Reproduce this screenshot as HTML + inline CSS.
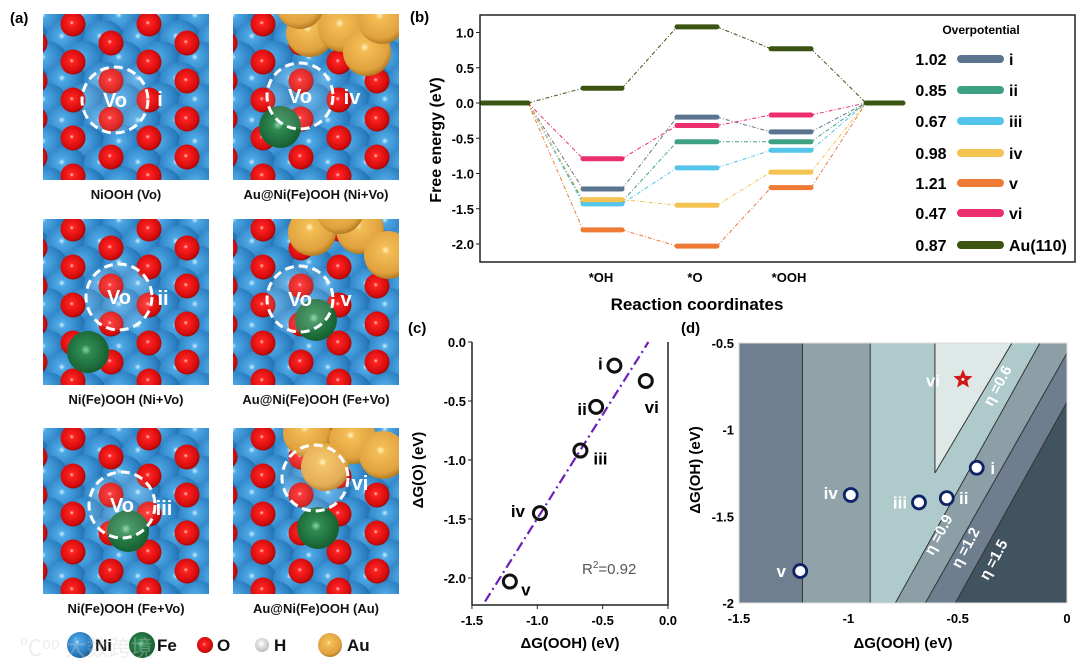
<!DOCTYPE html>
<html><head><meta charset="utf-8">
<style>
html,body{margin:0;padding:0;background:#fff;}
svg{display:block;font-family:"Liberation Sans",Arial,sans-serif;}
</style></head>
<body>
<svg id="fig" width="1080" height="668" viewBox="0 0 1080 668" xmlns="http://www.w3.org/2000/svg">
<defs>
<radialGradient id="gBlue" cx="0.4" cy="0.38" r="0.65"><stop offset="0" stop-color="#cfefff"/><stop offset="0.12" stop-color="#4fa9e6"/><stop offset="0.7" stop-color="#2a7dc0"/><stop offset="1" stop-color="#1d5f97"/></radialGradient>
<radialGradient id="gRed" cx="0.45" cy="0.45" r="0.6"><stop offset="0" stop-color="#ffd0d0"/><stop offset="0.15" stop-color="#f22"/><stop offset="0.75" stop-color="#d40c0c"/><stop offset="1" stop-color="#8e0505"/></radialGradient>
<radialGradient id="gGreen" cx="0.45" cy="0.45" r="0.6"><stop offset="0" stop-color="#8fd3a8"/><stop offset="0.2" stop-color="#2f8c52"/><stop offset="1" stop-color="#135a2c"/></radialGradient>
<radialGradient id="gGold" cx="0.45" cy="0.4" r="0.6"><stop offset="0" stop-color="#fff4c0"/><stop offset="0.15" stop-color="#f3bd55"/><stop offset="0.8" stop-color="#e0a23e"/><stop offset="1" stop-color="#b47c22"/></radialGradient>
<radialGradient id="gWhite" cx="0.45" cy="0.4" r="0.6"><stop offset="0" stop-color="#fff"/><stop offset="1" stop-color="#bbb"/></radialGradient>
</defs>
<g id="panelA"></g>
<text x="10" y="23" font-size="15" font-weight="bold">(a)</text>
<g id="panelB"></g>
<g id="panelC"></g>
<g id="panelD"></g>
</svg>
<script>
const NS='http://www.w3.org/2000/svg';
function mk(tag,attrs,parent,text){const e=document.createElementNS(NS,tag);for(const k in attrs)e.setAttribute(k,attrs[k]);if(text!==undefined)e.textContent=text;parent.appendChild(e);return e;}

// ---------- Panel B data ----------
const bSteps=['*OH','*O','*OOH'];
const bNames=['i','ii','iii','iv','v','vi','Au(110)'];
const bOverpot=['1.02','0.85','0.67','0.98','1.21','0.47','0.87'];
const bColors=['#5a7590','#3fa183','#55c4ea','#f5c352','#ee7a36','#ea2f6c','#3b5412'];
const bOH=[-1.22,-1.40,-1.43,-1.37,-1.80,-0.79,0.21];
const bO=[-0.20,-0.55,-0.92,-1.45,-2.03,-0.32,1.08];
const bOOH=[-0.41,-0.55,-0.67,-0.98,-1.20,-0.17,0.77];
const bTicks=[1.0,0.5,0.0,-0.5,-1.0,-1.5,-2.0];

// ---------- Panel C data ----------
const cNames=['i','ii','iii','iv','v','vi'];
const cOOH=[-0.41,-0.55,-0.67,-0.98,-1.21,-0.17];
const cO=[-0.20,-0.55,-0.92,-1.45,-2.03,-0.33];
const cFitX=[-1.40,-0.15];
const cFitY=[-2.20,0.00];
const cXTicks=[-1.5,-1.0,-0.5,0.0];
const cYTicks=[0.0,-0.5,-1.0,-1.5,-2.0];

// ---------- Panel D data ----------
const dNames=['i','ii','iii','iv','v'];
const dOOH=[-0.413,-0.55,-0.677,-0.989,-1.22];
const dOH=[-1.22,-1.395,-1.42,-1.377,-1.816];
const dStar=[-0.476,-0.71];
const dVLines=[-1.21,-0.90];
const dApex=[-0.604,-1.25];
const dEta06Top=[-0.252,-0.5];
const dEta09=[[-0.785,-2],[-0.124,-0.5]];
const dEta12=[[-0.648,-2],[0,-0.558]];
const dEta15=[[-0.511,-2],[0,-0.84]];
const dXTicks=[-1.5,-1,-0.5,0];
const dYTicks=[-0.5,-1,-1.5,-2];

// ================= Panel A =================
(function(){
  const g=document.getElementById('panelA');
  const tiles=[
    {x:43,y:14,label:'NiOOH (Vo)',circ:[115,100],vo:true,id:'i',idp:[160,106],green:null,gold:[]},
    {x:233,y:14,label:'Au@Ni(Fe)OOH (Ni+Vo)',circ:[300,96],vo:true,id:'iv',idp:[352,104],green:[280,127],gold:[[310,33],[342,28],[367,52],[382,20],[300,5]]},
    {x:43,y:219,label:'Ni(Fe)OOH (Ni+Vo)',circ:[119,297],vo:true,id:'ii',idp:[163,305],green:[88,352],gold:[]},
    {x:233,y:219,label:'Au@Ni(Fe)OOH (Fe+Vo)',circ:[300,299],vo:true,id:'v',idp:[346,306],green:[316,320],gold:[[312,232],[360,230],[388,255],[340,210]]},
    {x:43,y:428,label:'Ni(Fe)OOH (Fe+Vo)',circ:[122,505],vo:true,id:'iii',idp:[164,515],green:[128,531],gold:[]},
    {x:233,y:428,label:'Au@Ni(Fe)OOH (Au)',circ:[315,478],vo:false,id:'vi',idp:[360,490],green:[318,528],gold:[[307,433],[353,440],[383,455],[325,467]]}
  ];
  tiles.forEach((t,ti)=>{
    const tg=mk('g',{},g);
    
    
    const cp=mk('clipPath',{id:'clip'+ti},tg);
    mk('rect',{x:t.x,y:t.y,width:166,height:166},cp);
    const inner=mk('g',{'clip-path':'url(#clip'+ti+')'},tg);
    mk('rect',{x:t.x,y:t.y,width:166,height:166,fill:'#2a78b8'},inner);
    for(let j=-1;j<9;j++){for(let i=-1;i<6;i++){
      const cx=t.x+i*38+(j%2?19:0)+4, cy=t.y+j*21+6;
      mk('circle',{cx:cx,cy:cy,r:21,fill:'url(#gBlue)'},inner);
    }}
    for(let j=0;j<10;j++){for(let i=-1;i<4;i++){
      const cx=t.x+i*76+(j%2?38:0)+30, cy=t.y+j*19+10;
      mk('circle',{cx:cx,cy:cy,r:12.5,fill:'url(#gRed)'},inner);
    }}
    if(t.green) mk('circle',{cx:t.green[0],cy:t.green[1],r:21,fill:'url(#gGreen)'},inner);
    t.gold.forEach(p=>mk('circle',{cx:p[0],cy:p[1],r:24,fill:'url(#gGold)'},inner));
    const dc=mk('circle',{cx:t.circ[0],cy:t.circ[1],r:33,fill:'rgba(255,255,255,0.12)',stroke:'#fff','stroke-width':3,'stroke-dasharray':'9 5'},inner);
    
    
    if(t.vo){const v=mk('text',{x:t.circ[0],y:t.circ[1]+7,'text-anchor':'middle','font-size':20,'font-weight':'bold',fill:'#fff'},inner,'Vo');
      }
    const idt=mk('text',{x:t.idp[0],y:t.idp[1],'text-anchor':'middle','font-size':20,'font-weight':'bold',fill:'#fff'},inner,t.id);
    
    
    const lb=mk('text',{x:t.x+83,y:t.y+185,'text-anchor':'middle','font-size':13,'font-weight':'bold',fill:'#111'},g,t.label);
    
    
  });
  const leg=mk('g',{},g);
  
  
  const items=[['Ni','gBlue',80,13,95],['Fe','gGreen',142,13,157],['O','gRed',205,8,217],['H','gWhite',262,7,274],['Au','gGold',330,12,347]];
  items.forEach(it=>{
    mk('circle',{cx:it[2],cy:645,r:it[3],fill:'url(#'+it[1]+')'},leg);
    const t=mk('text',{x:it[4],y:651,'font-size':17,'font-weight':'bold',fill:'#111'},leg,it[0]);
    
    
  });
  mk('text',{x:20,y:656,'font-size':22,fill:'#ccc',opacity:0.35,'font-family':'"Noto Sans CJK SC",sans-serif'},g,'℃⁰⁰ 大数跨境');
})();

// ================= Panel B =================
(function(){
  const g=document.getElementById('panelB');
  const L=480,R=1075,T=15,B=262;
  const y=v=>103-v*70.5;
  mk('text',{x:410,y:22,'font-size':15,'font-weight':'bold'},g,'(b)');
  const lvx=[[482,528],[583,622],[677,717],[771,811],[866,903]];
  bNames.forEach((n,k)=>{
    const vals=[0,bOH[k],bO[k],bOOH[k],0];
    for(let s=0;s<4;s++){
      const ln=mk('line',{x1:lvx[s][1],y1:y(vals[s]),x2:lvx[s+1][0],y2:y(vals[s+1]),stroke:bColors[k],'stroke-width':1,'stroke-dasharray':'4 2 1 2'},g);
      
      
    }
  });
  bNames.forEach((n,k)=>{
    const vals=[bOH[k],bO[k],bOOH[k]];
    for(let s=0;s<3;s++){
      const r=mk('line',{x1:lvx[s+1][0],y1:y(vals[s]),x2:lvx[s+1][1],y2:y(vals[s]),stroke:bColors[k],'stroke-width':5,'stroke-linecap':'round'},g);
      
      
    }
  });
  [0,4].forEach(s=>{const r=mk('line',{x1:lvx[s][0],y1:y(0),x2:lvx[s][1],y2:y(0),stroke:bColors[6],'stroke-width':5,'stroke-linecap':'round'},g);
    });
  const fr=mk('rect',{x:L,y:T,width:R-L,height:B-T,fill:'none',stroke:'#222','stroke-width':1.5},g);
  
  bTicks.forEach(v=>{
    mk('line',{x1:L-4,y1:y(v),x2:L,y2:y(v),stroke:'#222'},g);
    const t=mk('text',{x:L-6,y:y(v)+5,'text-anchor':'end','font-size':13,'font-weight':'bold'},g,v.toFixed(1));
    
  });
  const cx=[601,695,789];
  bSteps.forEach((s,i)=>{const t=mk('text',{x:cx[i],y:282,'text-anchor':'middle','font-size':13,'font-weight':'bold'},g,s);
    });
  const xt=mk('text',{x:697,y:310,'text-anchor':'middle','font-size':17,'font-weight':'bold'},g,'Reaction coordinates');
  
  const yt=mk('text',{x:0,y:0,transform:'translate(441,140) rotate(-90)','text-anchor':'middle','font-size':16,'font-weight':'bold'},g,'Free energy (eV)');
  
  mk('text',{x:981,y:34,'text-anchor':'middle','font-size':12,'font-weight':'bold'},g,'Overpotential');
  const ry=[59,90,121,153,183,213,245];
  bNames.forEach((n,k)=>{
    const lg=mk('g',{},g);
    
    
    mk('text',{x:931,y:ry[k]+6,'text-anchor':'middle','font-size':16,'font-weight':'bold'},lg,bOverpot[k]);
    mk('line',{x1:961,y1:ry[k],x2:1000,y2:ry[k],stroke:bColors[k],'stroke-width':8,'stroke-linecap':'round'},lg);
    mk('text',{x:1009,y:ry[k]+6,'font-size':16,'font-weight':'bold'},lg,n);
  });
})();

// ================= Panel C =================
(function(){
  const g=document.getElementById('panelC');
  const L=472,R=668,T=342,B=605;
  const x=v=>R+v*130.7, y=v=>T-v*118;
  mk('text',{x:408,y:333,'font-size':15,'font-weight':'bold'},g,'(c)');
  const fit=mk('line',{x1:x(cFitX[0]),y1:y(cFitY[0]),x2:x(cFitX[1]),y2:y(cFitY[1]),stroke:'#6a1fb8','stroke-width':2.2,'stroke-dasharray':'10 4 2 4'},g);
  
  const lblOff=[[-14,-2],[-14,2],[20,8],[-22,-2],[16,8],[6,26]];
  cNames.forEach((n,k)=>{
    const c=mk('circle',{cx:x(cOOH[k]),cy:y(cO[k]),r:6.5,fill:'none',stroke:'#111','stroke-width':3},g);
    
    const t=mk('text',{x:x(cOOH[k])+lblOff[k][0],y:y(cO[k])+lblOff[k][1]+6,'text-anchor':'middle','font-size':17,'font-weight':'bold'},g,n);
    
  });
  const fr=mk('path',{d:`M${L},${T}V${B}H${R}V${T}`,fill:'none',stroke:'#222','stroke-width':1.5},g);
  
  cXTicks.forEach(v=>{mk('line',{x1:x(v),y1:B,x2:x(v),y2:B+4,stroke:'#222'},g);
    const t=mk('text',{x:x(v),y:B+20,'text-anchor':'middle','font-size':13,'font-weight':'bold'},g,v.toFixed(1));
    });
  cYTicks.forEach(v=>{mk('line',{x1:L-4,y1:y(v),x2:L,y2:y(v),stroke:'#222'},g);
    const t=mk('text',{x:L-6,y:y(v)+5,'text-anchor':'end','font-size':13,'font-weight':'bold'},g,v.toFixed(1));
    });
  const r2=mk('text',{x:582,y:574,'font-size':15,fill:'#555'},g);
  
  r2.innerHTML='R<tspan dy="-6" font-size="10">2</tspan><tspan dy="6">=0.92</tspan>';
  const xt=mk('text',{x:570,y:648,'text-anchor':'middle','font-size':15,'font-weight':'bold'},g,'ΔG(OOH) (eV)');
  
  const yt=mk('text',{x:0,y:0,transform:'translate(423,470) rotate(-90)','text-anchor':'middle','font-size':15,'font-weight':'bold'},g,'ΔG(O) (eV)');
  
})();

// ================= Panel D =================
(function(){
  const g=document.getElementById('panelD');
  const L=739,R=1067,T=343,B=603;
  const x=v=>L+(v+1.5)*218.7, y=v=>T-(v+0.5)*173.3;
  mk('text',{x:681,y:333,'font-size':15,'font-weight':'bold'},g,'(d)');
  const cp=mk('clipPath',{id:'dclip'},g);mk('rect',{x:L,y:T,width:R-L,height:B-T},cp);
  const pg=mk('g',{'clip-path':'url(#dclip)'},g);
  const P=(a)=>a.map(p=>x(p[0])+','+y(p[1])).join(' ');
  function poly(pts,fill,name){const p=mk('polygon',{points:P(pts),fill:fill},pg);}
  poly([[-1.5,-0.5],[dVLines[0],-0.5],[dVLines[0],-2],[-1.5,-2]],'#6f7f8f','region-eta-left-1');
  poly([[dVLines[0],-0.5],[dVLines[1],-0.5],[dVLines[1],-2],[dVLines[0],-2]],'#8fa3a9','region-eta-left-2');
  poly([[dVLines[1],-0.5],[dEta09[1][0],-0.5],[dEta09[0][0],-2],[dVLines[1],-2]],'#aecaca','region-eta-0.6-0.9');
  poly([[dApex[0],-0.5],[dEta06Top[0],-0.5],[dApex[0],dApex[1]]],'#dde8e7','region-eta-below-0.6');
  poly([[dEta09[1][0],-0.5],[0,-0.5],[0,dEta12[1][1]],[dEta12[0][0],-2],[dEta09[0][0],-2]],'#8c9fa7','region-eta-0.9-1.2');
  poly([[0,dEta12[1][1]],[0,dEta15[1][1]],[dEta15[0][0],-2],[dEta12[0][0],-2]],'#6e7e8f','region-eta-1.2-1.5');
  poly([[0,dEta15[1][1]],[0,-2],[dEta15[0][0],-2]],'#425360','region-eta-above-1.5');
  function ln(a,b,name){const l=mk('line',{x1:x(a[0]),y1:y(a[1]),x2:x(b[0]),y2:y(b[1]),stroke:'#333','stroke-width':1},pg);}
  dVLines.forEach(v=>ln([v,-0.5],[v,-2],'contour-vertical'));
  ln([dApex[0],-0.5],dApex,'contour-eta-0.6-vertical');
  ln(dApex,dEta06Top,'contour-eta-0.6');
  ln(dEta09[0],dEta09[1],'contour-eta-0.9');
  ln(dEta12[0],dEta12[1],'contour-eta-1.2');
  ln(dEta15[0],dEta15[1],'contour-eta-1.5');
  const etaL=[['η =0.6',1002,388],['η =0.9',943,537],['η =1.2',970,550],['η =1.5',998,562]];
  etaL.forEach(e=>{const t=mk('text',{x:0,y:0,transform:`translate(${e[1]},${e[2]}) rotate(-62)`,'text-anchor':'middle','font-size':15,'font-weight':'bold',fill:'#fff'},pg,e[0]);
    });
  const sx=x(dStar[0]),sy=y(dStar[1]);let sp='';
  for(let i=0;i<10;i++){const a=-Math.PI/2+i*Math.PI/5,r=i%2?4.5:10;sp+=(sx+r*Math.cos(a))+','+(sy+r*Math.sin(a))+' ';}
  const st=mk('polygon',{points:sp,fill:'#d01818'},g);
  mk('circle',{cx:sx,cy:sy,r:1.5,fill:'#fff'},g);
  const vt=mk('text',{x:sx-30,y:sy+7,'text-anchor':'middle','font-size':17,'font-weight':'bold',fill:'#fff'},g,'vi');
  
  const off=[[16,0],[17,0],[-19,0],[-20,-2],[-19,0]];
  dNames.forEach((n,k)=>{
    const c=mk('circle',{cx:x(dOOH[k]),cy:y(dOH[k]),r:6.5,fill:'#fff',stroke:'#0f2466','stroke-width':2.8},g);
    
    const t=mk('text',{x:x(dOOH[k])+off[k][0],y:y(dOH[k])+off[k][1]+6,'text-anchor':'middle','font-size':17,'font-weight':'bold',fill:'#fff'},g,n);
    
  });
  const fr=mk('rect',{x:L,y:T,width:R-L,height:B-T,fill:'none',stroke:'#ddd','stroke-width':1},g);
  
  dXTicks.forEach(v=>{const t=mk('text',{x:x(v),y:B+20,'text-anchor':'middle','font-size':13,'font-weight':'bold'},g,String(v));
    });
  dYTicks.forEach(v=>{const t=mk('text',{x:L-5,y:y(v)+5,'text-anchor':'end','font-size':13,'font-weight':'bold'},g,String(v));
    });
  const xt=mk('text',{x:903,y:648,'text-anchor':'middle','font-size':15,'font-weight':'bold'},g,'ΔG(OOH) (eV)');
  
  const yt=mk('text',{x:0,y:0,transform:'translate(700,470) rotate(-90)','text-anchor':'middle','font-size':15,'font-weight':'bold'},g,'ΔG(OH) (eV)');
  
})();
</script>
</body></html>
